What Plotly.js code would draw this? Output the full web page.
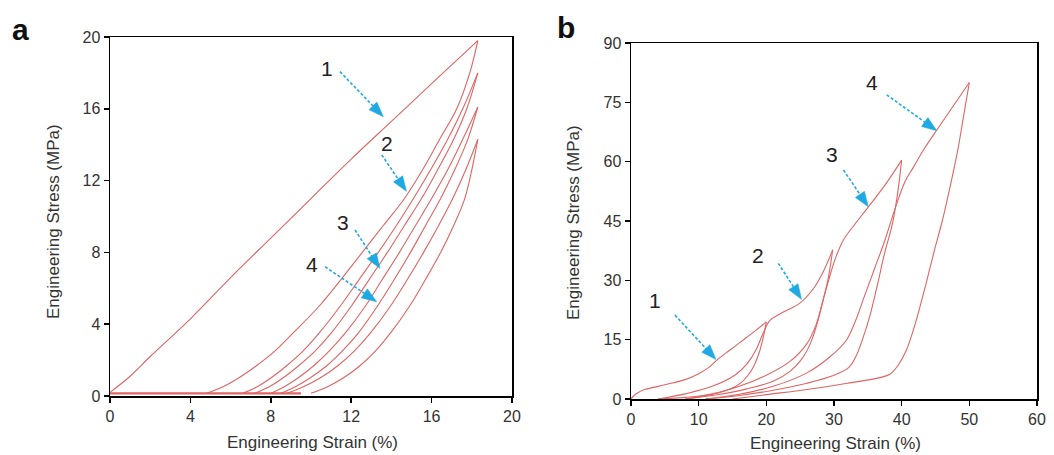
<!DOCTYPE html>
<html>
<head>
<meta charset="utf-8">
<script src="https://cdn.plot.ly/plotly-3.0.1.min.js"></script>
<style>
  html, body { margin: 0; padding: 0; background: #fff; }
  #chart { width: 1054px; height: 455px; }
</style>
</head>
<body>
<div id="chart"></div>
<script>
// ---------------- Panel a data (strain %, stress MPa) ----------------
const aLoad1X   = [0, 1, 2, 4, 6, 8, 10, 12, 14, 16, 18.3];
const aLoad1Y   = [0.2, 1.1, 2.2, 4.3, 6.6, 8.8, 11.0, 13.2, 15.3, 17.4, 19.8];
const aUnload1X = [18.3, 17.9, 17.25, 16.4, 15.55, 14.65, 13.6, 12.55, 11.5, 10.4, 9.1, 8.2, 7.3, 6.4, 5.6, 4.8];
const aUnload1Y = [19.8, 18, 16, 14.3, 12.6, 11, 9.5, 8, 6.5, 5, 3.5, 2.5, 1.7, 1, 0.5, 0.15];
const aReload2X = [6.6, 7.3, 8.0, 8.8, 9.6, 10.4, 11.45, 12.4, 13.35, 14.25, 15.1, 15.95, 16.8, 17.55, 18.3];
const aReload2Y = [0.15, 0.5, 1, 1.7, 2.5, 3.5, 5, 6.5, 8, 9.5, 11, 12.6, 14.3, 16, 18];
const aUnload2X = [18.3, 17.75, 17.1, 16.3, 15.5, 14.65, 13.8, 12.9, 12.0, 11.0, 10.2, 9.4, 8.6, 7.9, 7.2];
const aUnload2Y = [18, 16, 14.3, 12.6, 11, 9.5, 8, 6.5, 5, 3.5, 2.5, 1.7, 1, 0.5, 0.15];
const aReload3X = [8.0, 8.65, 9.35, 10.15, 10.9, 11.7, 12.7, 13.55, 14.4, 15.2, 16.0, 16.8, 17.55, 18.3];
const aReload3Y = [0.15, 0.5, 1, 1.7, 2.5, 3.5, 5, 6.5, 8, 9.5, 11, 12.6, 14.3, 16.1];
const aUnload3X = [18.3, 17.8, 17.15, 16.45, 15.7, 14.95, 14.15, 13.3, 12.35, 11.55, 10.8, 9.95, 9.2, 8.5];
const aUnload3Y = [16.1, 14.3, 12.6, 11, 9.5, 8, 6.5, 5, 3.5, 2.5, 1.7, 1, 0.5, 0.15];
const aReload4X = [8.8, 9.6, 10.45, 11.35, 12.15, 12.95, 13.95, 14.8, 15.6, 16.35, 17.05, 17.7, 18.3];
const aReload4Y = [0.15, 0.5, 1, 1.7, 2.5, 3.5, 5, 6.5, 8, 9.5, 11, 12.6, 14.3];
const aUnload4X = [18.3, 18.0, 17.65, 17.1, 16.45, 15.7, 14.9, 13.95, 13.2, 12.45, 11.6, 10.8, 10.0];
const aUnload4Y = [14.3, 12.6, 11, 9.5, 8, 6.5, 5, 3.5, 2.5, 1.7, 1, 0.5, 0.15];
const aBaseX    = [0, 9.5];
const aBaseY    = [0.15, 0.15];

// ---------------- Panel b data ----------------
const bLoad1X   = [0, 0.5, 1, 2, 3.5, 5, 8, 10, 11.5, 12.6, 14, 15.5, 17, 18.5, 20];
const bLoad1Y   = [0, 1, 1.6, 2.4, 3.0, 3.6, 4.9, 6.4, 8.0, 9.7, 11.6, 13.5, 15.5, 17.4, 19.5];
const bUnload1X = [20, 19.6, 19, 18.2, 17.3, 16.2, 14.5, 12, 8, 4];
const bUnload1Y = [19.5, 16, 12, 8.5, 6, 4, 2.4, 1.2, 0.4, 0];
const bReload2X = [4, 8, 12, 15.5, 17.2, 18.5, 19.5, 20.5, 22, 25, 27, 28.5, 29.8];
const bReload2Y = [0, 1.3, 3.2, 6.2, 9, 12.5, 16.5, 19.8, 21.5, 24.3, 28, 32.5, 37.7];
const bUnload2X = [29.8, 29.2, 28.4, 27.5, 26.5, 25.2, 23.5, 21, 17, 12.5, 8];
const bUnload2Y = [37.7, 31, 25, 19, 14, 10, 7, 4.5, 2.5, 1, 0];
const bReload3X = [8, 12, 16, 20, 23.5, 26, 27.4, 28.3, 29.2, 30.3, 31.5, 33, 35, 37.5, 40];
const bReload3Y = [0, 1.3, 3.2, 6, 9.5, 14, 19, 24.5, 30, 36, 40.5, 44, 48.4, 54, 60.4];
const bUnload3X = [40, 39.4, 38.6, 37.5, 36.3, 35.3, 34.2, 33.3, 32.2, 30, 26, 21, 16, 11];
const bUnload3Y = [60.4, 52, 44, 37, 28, 21, 15, 11, 8, 6, 4, 2.2, 0.9, 0];
const bReload4X = [11, 16, 21, 26, 29.5, 31.8, 33, 34.5, 36, 37.5, 39, 40.5, 41.7, 43.2, 45.4, 47.8, 50];
const bReload4Y = [0, 1.2, 3.2, 6.6, 10.8, 14.8, 19, 26, 33, 40, 48, 55, 58.5, 62.9, 68.5, 74.5, 80];
const bUnload4X = [50, 49.2, 48.3, 47.2, 46, 44.9, 43.5, 42, 40.7, 39.5, 38.3, 36.8, 32, 26, 20, 15];
const bUnload4Y = [80, 72, 63, 54, 45, 38, 28.5, 19, 12.4, 8.6, 6.3, 5.4, 4, 2.4, 1.1, 0];

// ---------------- Ticks ----------------
const aTicks = [0, 4, 8, 12, 16, 20];
const bXTicks = [0, 10, 20, 30, 40, 50, 60];
const bYTicks = [0, 15, 30, 45, 60, 75, 90];

// ---------------- Arrow labels ----------------
const aArrowLabels = ['1', '2', '3', '4'];
const aLabelX = [10.78, 13.77, 11.6, 10.03];
const aLabelY = [18.25, 14.08, 9.66, 7.3];
const aFromX  = [11.44, 13.52, 12.19, 10.7];
const aFromY  = [18.07, 13.43, 9.25, 7.2];
const aTipX   = [13.6, 14.75, 13.43, 13.27];
const aTipY   = [15.56, 11.4, 7.11, 5.25];

const bArrowLabels = ['1', '2', '3', '4'];
const bLabelX = [3.55, 18.72, 29.66, 35.57];
const bLabelY = [25.0, 36.4, 61.9, 80.06];
const bFromX  = [6.5, 21.77, 31.4, 37.8];
const bFromY  = [21.2, 34.3, 57.9, 76.9];
const bTipX   = [12.56, 25.2, 35.07, 45.2];
const bTipY   = [10.0, 25.2, 48.6, 67.8];

// ---------------- Layout geometry (pixels) ----------------
const W = 1054, H = 455;
const panA = {x0: 110, x1: 512, y0: 37, y1: 396, xr: [0, 20], yr: [0, 20], xa: 'x', ya: 'y'};
const panB = {x0: 631, x1: 1037, y0: 43, y1: 399, xr: [0, 60], yr: [0, 90], xa: 'x2', ya: 'y2'};

const lineColor = '#e06464';
const arrowColor = '#1ea9e3';
const font = 'Liberation Sans, Arial, sans-serif';

function seg(x, y, xa, ya, w, shape) {
  return {x: x, y: y, xaxis: xa, yaxis: ya, type: 'scatter', mode: 'lines',
          line: {color: lineColor, width: w || 1.1, shape: shape || 'spline', smoothing: 1},
          hoverinfo: 'skip', showlegend: false};
}

const traces = [
  seg(aBaseX, aBaseY, 'x', 'y', 2.2, 'linear'),
  seg(aLoad1X, aLoad1Y, 'x', 'y'),
  seg(aUnload1X, aUnload1Y, 'x', 'y'),
  seg(aReload2X, aReload2Y, 'x', 'y'),
  seg(aUnload2X, aUnload2Y, 'x', 'y'),
  seg(aReload3X, aReload3Y, 'x', 'y'),
  seg(aUnload3X, aUnload3Y, 'x', 'y'),
  seg(aReload4X, aReload4Y, 'x', 'y'),
  seg(aUnload4X, aUnload4Y, 'x', 'y'),
  seg(bLoad1X, bLoad1Y, 'x2', 'y2'),
  seg(bUnload1X, bUnload1Y, 'x2', 'y2'),
  seg(bReload2X, bReload2Y, 'x2', 'y2'),
  seg(bUnload2X, bUnload2Y, 'x2', 'y2'),
  seg(bReload3X, bReload3Y, 'x2', 'y2'),
  seg(bUnload3X, bUnload3Y, 'x2', 'y2'),
  seg(bReload4X, bReload4Y, 'x2', 'y2'),
  seg(bUnload4X, bUnload4Y, 'x2', 'y2')
];

function toPx(p, x, y) {
  return [p.x0 + (x - p.xr[0]) / (p.xr[1] - p.xr[0]) * (p.x1 - p.x0),
          p.y1 - (y - p.yr[0]) / (p.yr[1] - p.yr[0]) * (p.y1 - p.y0)];
}
function toData(p, px, py) {
  return [p.xr[0] + (px - p.x0) / (p.x1 - p.x0) * (p.xr[1] - p.xr[0]),
          p.yr[0] + (p.y1 - py) / (p.y1 - p.y0) * (p.yr[1] - p.yr[0])];
}

const shapes = [];
const annotations = [];

function addArrows(p, labels, lx, ly, fx, fy, tx, ty) {
  for (let i = 0; i < labels.length; i++) {
    const f = toPx(p, fx[i], fy[i]);
    const t = toPx(p, tx[i], ty[i]);
    const dx = t[0] - f[0], dy = t[1] - f[1];
    const L = Math.hypot(dx, dy);
    const ux = dx / L, uy = dy / L;
    const headLen = 15, halfW = 5.5;
    const base = [t[0] - ux * headLen, t[1] - uy * headLen];
    const lineEnd = toData(p, base[0] + ux * 2, base[1] + uy * 2);
    shapes.push({type: 'line', xref: p.xa, yref: p.ya,
                 x0: fx[i], y0: fy[i], x1: lineEnd[0], y1: lineEnd[1],
                 line: {color: arrowColor, width: 1.6, dash: '3px,2px'}});
    const c1 = toData(p, base[0] - uy * halfW, base[1] + ux * halfW);
    const c2 = toData(p, base[0] + uy * halfW, base[1] - ux * halfW);
    shapes.push({type: 'path', xref: p.xa, yref: p.ya,
                 path: 'M' + tx[i] + ',' + ty[i] + ' L' + c1[0] + ',' + c1[1] + ' L' + c2[0] + ',' + c2[1] + ' Z',
                 fillcolor: arrowColor, line: {color: arrowColor, width: 0.5}});
    annotations.push({xref: p.xa, yref: p.ya, x: lx[i], y: ly[i], text: labels[i],
                      xanchor: 'center', yanchor: 'middle',
                      showarrow: false, font: {family: font, size: 21, color: '#222'}});
  }
}
addArrows(panA, aArrowLabels, aLabelX, aLabelY, aFromX, aFromY, aTipX, aTipY);
addArrows(panB, bArrowLabels, bLabelX, bLabelY, bFromX, bFromY, bTipX, bTipY);

function paperX(px) { return px / W; }
function paperY(py) { return 1 - py / H; }

function paperText(px, py, text, f, angle) {
  annotations.push({xref: 'paper', yref: 'paper', x: paperX(px), y: paperY(py), text: text,
                    xanchor: 'center', yanchor: 'middle', textangle: angle || 0,
                    showarrow: false, font: f});
}

// panel letters
paperText(20, 30, '<b>a</b>', {family: font, size: 30, color: '#111'});
paperText(566, 27, '<b>b</b>', {family: font, size: 30, color: '#111'});

// axis titles
const titleFont = {family: font, size: 17, color: '#333'};
paperText(312, 442, 'Engineering Strain (%)', titleFont);
paperText(53, 222, 'Engineering Stress (MPa)', titleFont, -90);
paperText(835, 443, 'Engineering Strain (%)', titleFont);
paperText(573, 223, 'Engineering Stress (MPa)', titleFont, -90);

function axis(p, isX, ticks) {
  const dom = isX ? [p.x0 / W, p.x1 / W] : [1 - p.y1 / H, 1 - p.y0 / H];
  return {
    domain: dom, range: isX ? p.xr : p.yr, tickvals: ticks, ticktext: ticks.map(String),
    ticks: 'outside', ticklen: 5, tickwidth: 1.5, tickcolor: '#000',
    showline: true, linecolor: '#000', linewidth: 1.5, mirror: true,
    showgrid: false, zeroline: false, fixedrange: true,
    tickfont: {family: font, size: 16, color: '#333'},
    anchor: isX ? p.ya : p.xa
  };
}

const layout = {
  width: W, height: H,
  margin: {l: 0, r: 0, t: 0, b: 0},
  paper_bgcolor: '#fff', plot_bgcolor: '#fff',
  showlegend: false,
  xaxis: axis(panA, true, aTicks),
  yaxis: axis(panA, false, aTicks),
  xaxis2: axis(panB, true, bXTicks),
  yaxis2: axis(panB, false, bYTicks),
  shapes: shapes,
  annotations: annotations
};

Plotly.newPlot('chart', traces, layout, {displayModeBar: false, staticPlot: true});
</script>
</body>
</html>
